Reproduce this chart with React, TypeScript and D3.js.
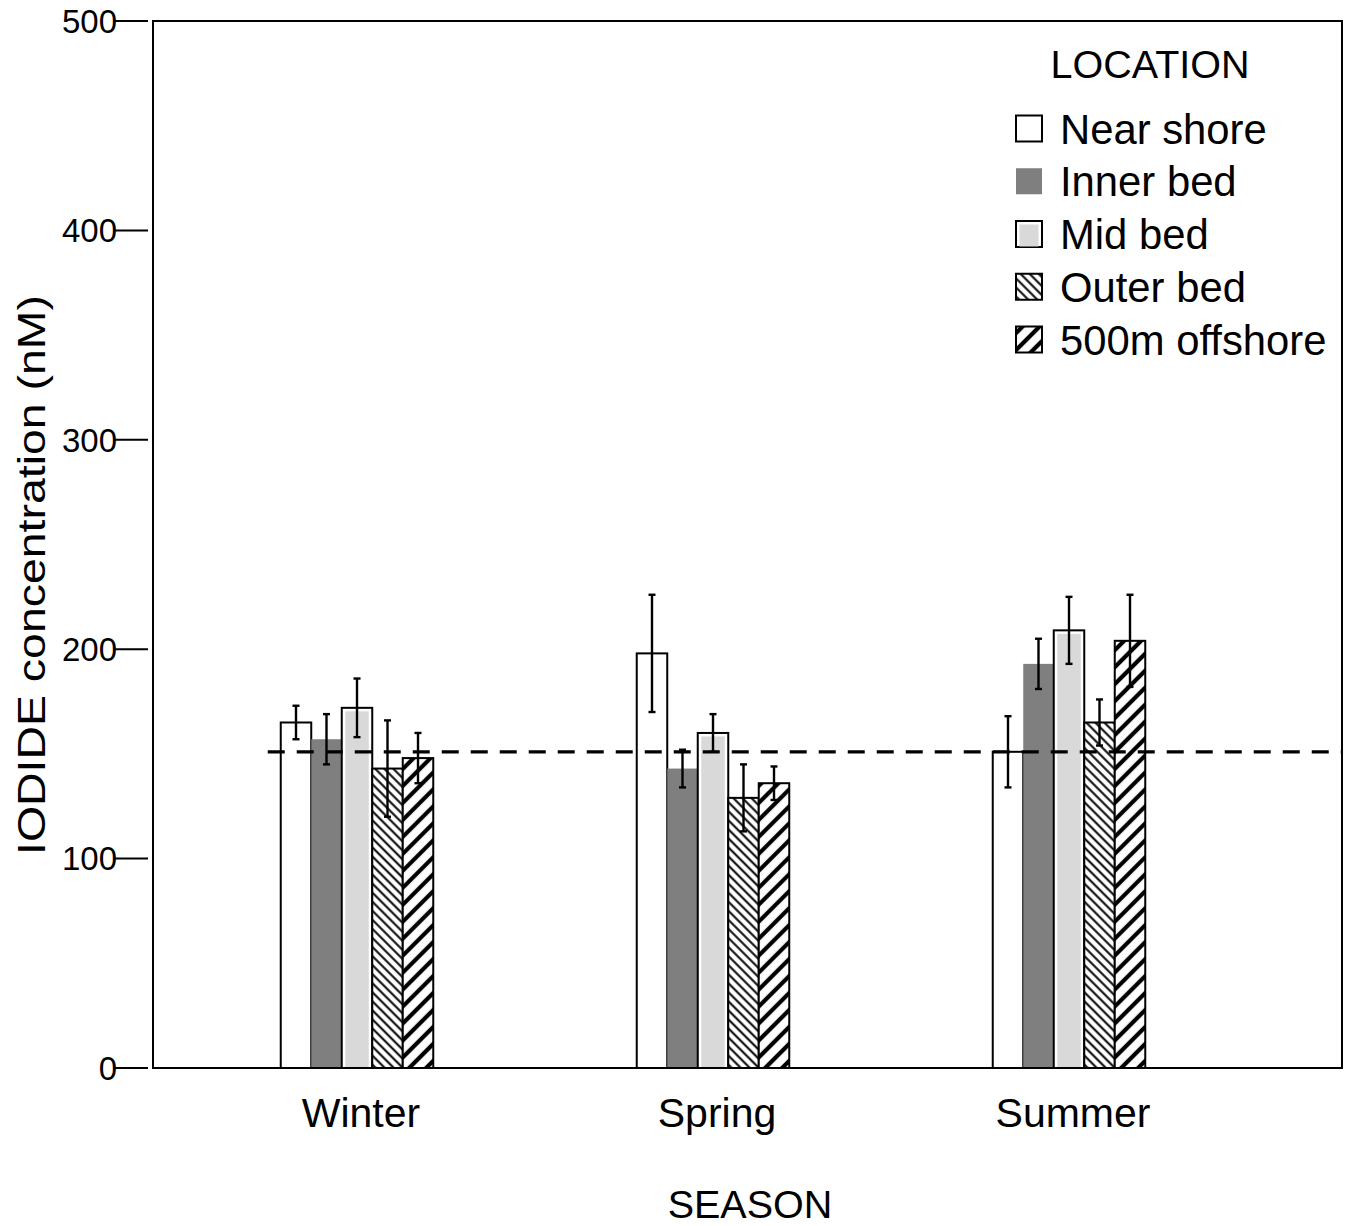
import React from 'react';
import * as d3 from 'd3';

// chart values
const seasons = ['Winter', 'Spring', 'Summer'];
const locations = ['Near shore', 'Inner bed', 'Mid bed', 'Outer bed', '500m offshore'];

const winterMeans = [165, 157, 172, 143, 148];
const springMeans = [198, 143, 160, 129, 136];
const summerMeans = [151, 193, 209, 165, 204];

const winterErr = [8, 12, 14, 23, 12];
const springErr = [28, 9, 9, 16, 8];
const summerErr = [17, 12, 16, 11, 22];

const referenceLevel = 151;
const yTicks = [0, 100, 200, 300, 400, 500];

const means = [winterMeans, springMeans, summerMeans];
const errs = [winterErr, springErr, summerErr];

const FONT = "'Liberation Sans', Arial, Helvetica, sans-serif";

export default function App() {
  const W = 1365, H = 1226;
  const margin = { top: 21, right: 23, bottom: 158, left: 153 };
  const plotR = W - margin.right;
  const plotB = H - margin.bottom;

  const y = d3.scaleLinear().domain([0, 500]).range([plotB, margin.top]);

  const x0 = d3.scaleBand()
    .domain(seasons)
    .range([179, 1247])
    .paddingInner(0.5716)
    .paddingOuter(0.2858);

  const x1 = d3.scaleBand()
    .domain(locations)
    .range([0, x0.bandwidth()]);

  const bw = x1.bandwidth();

  // draws one bar (or legend swatch) in the style of its location
  const swatch = (loc: string, x: number, yTop: number, w: number, h: number, key: string) => {
    if (loc === 'Near shore') {
      return <rect key={key} x={x} y={yTop} width={w} height={h} fill="#fff" stroke="#000" strokeWidth={2} />;
    }
    if (loc === 'Inner bed') {
      return <rect key={key} x={x} y={yTop} width={w} height={h} fill="#7f7f7f" />;
    }
    if (loc === 'Mid bed') {
      return (
        <g key={key}>
          <rect x={x} y={yTop} width={w} height={h} fill="#fff" stroke="#000" strokeWidth={2} />
          <rect x={x + 3.5} y={yTop + 3.5} width={Math.max(0, w - 7)} height={Math.max(0, h - 4)} fill="#d9d9d9" />
        </g>
      );
    }
    const pat = loc === 'Outer bed' ? 'url(#hatchFine)' : 'url(#hatchBold)';
    return <rect key={key} x={x} y={yTop} width={w} height={h} fill={pat} stroke="#000" strokeWidth={2} />;
  };

  const lineStart = (x0('Winter') ?? 0) - 13;

  return (
    <svg width={W} height={H} style={{ position: 'absolute', left: 0, top: 0, background: '#fff' }} fontFamily={FONT}>
      <defs>
        <pattern id="hatchFine" patternUnits="userSpaceOnUse" width={6.4} height={6.4} patternTransform="rotate(-45)">
          <rect width={6.4} height={6.4} fill="#fff" />
          <line x1={3.2} y1={0} x2={3.2} y2={6.4} stroke="#000" strokeWidth={2} />
        </pattern>
        <pattern id="hatchBold" patternUnits="userSpaceOnUse" width={12} height={12} patternTransform="rotate(45)">
          <rect width={12} height={12} fill="#fff" />
          <line x1={6} y1={0} x2={6} y2={12} stroke="#000" strokeWidth={4.2} />
        </pattern>
      </defs>

      <rect x={0} y={0} width={W} height={H} fill="#fff" />

      {/* y ticks */}
      {yTicks.map(t => (
        <g key={'t' + t}>
          <line x1={113} x2={148} y1={y(t)} y2={y(t)} stroke="#000" strokeWidth={2} />
          <text x={117} y={y(t)} dy="0.36em" textAnchor="end" fontSize={33} fill="#000">{t}</text>
        </g>
      ))}

      {/* bars */}
      {seasons.map((s, si) => (
        <g key={s} transform={`translate(${x0(s)},0)`}>
          {locations.map((loc, li) => {
            const v = means[si][li];
            return swatch(loc, x1(loc) ?? 0, y(v), bw, y(0) - y(v), s + loc);
          })}
        </g>
      ))}

      {/* reference level */}
      <line x1={lineStart} x2={plotR} y1={y(referenceLevel)} y2={y(referenceLevel)}
        stroke="#000" strokeWidth={3.2} strokeDasharray="17 12" />

      {/* error bars */}
      {seasons.map((s, si) => (
        <g key={'e' + s} transform={`translate(${x0(s)},0)`}>
          {locations.map((loc, li) => {
            const v = means[si][li];
            const e = errs[si][li];
            const cx = (x1(loc) ?? 0) + bw / 2;
            return (
              <g key={loc} stroke="#000" strokeWidth={2.4}>
                <line x1={cx} x2={cx} y1={y(v + e)} y2={y(v - e)} />
                <line x1={cx - 3.5} x2={cx + 3.5} y1={y(v + e)} y2={y(v + e)} />
                <line x1={cx - 3.5} x2={cx + 3.5} y1={y(v - e)} y2={y(v - e)} />
              </g>
            );
          })}
        </g>
      ))}

      {/* frame */}
      <rect x={margin.left} y={margin.top} width={plotR - margin.left} height={plotB - margin.top}
        fill="none" stroke="#000" strokeWidth={2} />

      {/* x labels */}
      {seasons.map(s => (
        <text key={'l' + s} x={(x0(s) ?? 0) + x0.bandwidth() / 2 + 4} y={1127} textAnchor="middle" fontSize={41} fill="#000">{s}</text>
      ))}

      <text x={750} y={1218} textAnchor="middle" fontSize={39.5} fill="#000">SEASON</text>

      <text transform="translate(45,575) rotate(-90)" textAnchor="middle" fontSize={39} fill="#000"
        textLength={560} lengthAdjust="spacingAndGlyphs">IODIDE concentration (nM)</text>

      {/* legend */}
      <text x={1150} y={78} textAnchor="middle" fontSize={39.5} fill="#000">LOCATION</text>
      {locations.map((loc, i) => {
        const cy = 128.5 + i * 52.75;
        return (
          <g key={'lg' + loc}>
            {swatch(loc, 1016, cy - 13, 26, 26, 'sw' + loc)}
            <text x={1060} y={cy} dy="0.36em" fontSize={41.8} fill="#000">{loc}</text>
          </g>
        );
      })}
    </svg>
  );
}
